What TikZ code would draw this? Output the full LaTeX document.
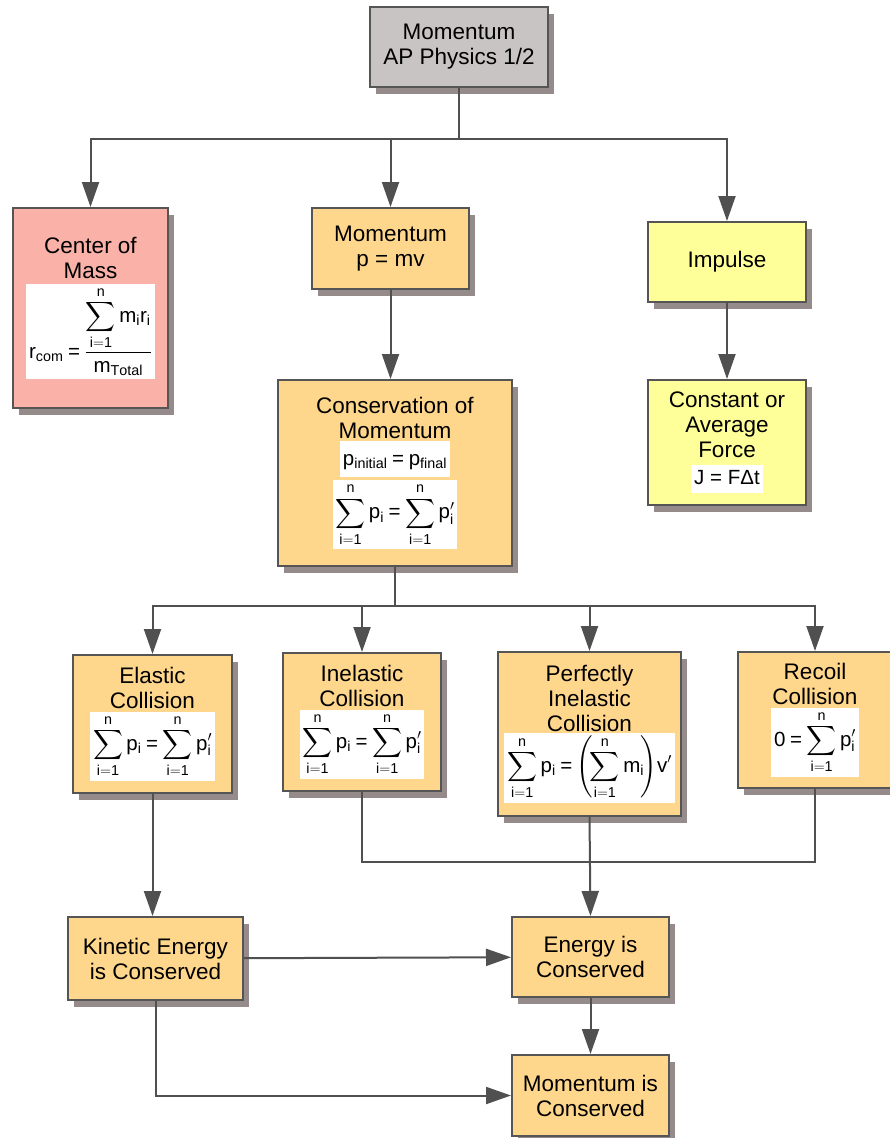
\documentclass[tikz,border=0pt]{standalone}
\usepackage{amsmath}
\usepackage{fontspec}
\setmainfont{Liberation Sans}
\usetikzlibrary{arrows.meta,shadows}

\definecolor{topgray}{RGB}{200,196,196}
\definecolor{compink}{RGB}{250,178,168}
\definecolor{boxorange}{RGB}{255,215,140}
\definecolor{impyellow}{RGB}{255,255,153}
\definecolor{shadowgray}{RGB}{150,139,139}
\definecolor{edgegray}{RGB}{85,85,85}
\definecolor{linegray}{RGB}{80,80,80}

\setlength{\fboxsep}{3pt}
\thickmuskip=4mu
\newcommand{\fml}{\fontsize{20.5}{23}\selectfont}
\newcommand{\eq}{\mathrel{\text{=}}}
\newcommand{\momsum}{\displaystyle\sum_{\mathrm{i=1}}^{\mathrm{n}}\mathrm{p}_{\mathrm{i}}\eq\sum_{\mathrm{i=1}}^{\mathrm{n}}\mathrm{p}'_{\mathrm{i}}}

\tikzset{
	% standard arrow tip
	>={Triangle[length=25pt,width=17pt]},
	% box style
	box/.style={
		rectangle,
		draw=edgegray, line width=2pt,
		fill=boxorange,
		align=center,
		inner sep=3pt,
		font=\fontsize{22.5}{25}\selectfont,
		drop shadow={shadow xshift=6pt, shadow yshift=-7pt, opacity=1, fill=shadowgray}
	},
	% connector styles
	link/.style={
		draw=linegray,
		line width=2pt
	},
	arrow/.style={
		link,
		->
	}
}

\begin{document}
\begin{tikzpicture}[x=1pt,y=-1pt]
	\useasboundingbox (0,0) rectangle (890,1138);

	\node[box,fill=topgray,minimum width=178pt,minimum height=80pt] (top) at (459,47)
		{Momentum \\ AP Physics 1/2};

	\node[box,fill=compink,minimum width=155pt,minimum height=200pt] (com) at (90.5,308)
		{Center of \\ Mass \\[4pt]
		\colorbox{white}{\fml\rule[-12pt]{0pt}{10pt}$\displaystyle\mathrm{r}_{\mathrm{com}}\eq\frac{\displaystyle\sum_{\mathrm{i=1}}^{\mathrm{n}}\mathrm{m}_{\mathrm{i}}\mathrm{r}_{\mathrm{i}}}{\mathrm{m}_{\mathrm{Total}}}$}};
	\node[box,minimum width=157pt,minimum height=81pt] (mom) at (390.5,248.5)
		{Momentum \\ p = mv};
	\node[box,fill=impyellow,minimum width=158pt,minimum height=80pt] (imp) at (727,262)
		{Impulse};

	\node[box,minimum width=234pt,minimum height=186pt] (cons) at (395,473)
		{Conservation of \\ Momentum \\[2pt]
		\colorbox{white}{\fml\rule[-9pt]{0pt}{30pt}$\mathrm{p}_{\mathrm{initial}}\eq\mathrm{p}_{\mathrm{final}}$} \\[2pt]
		\colorbox{white}{\fml $\momsum$}};
	\node[box,fill=impyellow,minimum width=158pt,minimum height=125pt] (force) at (727,442.5)
		{Constant or \\ Average \\ Force \\[2pt]
		\colorbox{white}{\fml\rule[-5pt]{0pt}{22pt}J = FΔt}};

	\node[box,minimum width=159pt,minimum height=138pt] (elastic) at (152.5,724)
		{Elastic \\ Collision \\[2pt]
		\colorbox{white}{\fml $\momsum$}};
	\node[box,minimum width=158pt,minimum height=138pt] (inel) at (362,722)
		{Inelastic \\ Collision \\[2pt]
		\colorbox{white}{\fml $\momsum$}};
	\node[box,minimum width=183pt,minimum height=164pt] (perf) at (589.5,734)
		{Perfectly \\ Inelastic \\ Collision \\
		\colorbox{white}{\fml $\displaystyle\sum_{\mathrm{i=1}}^{\mathrm{n}}\mathrm{p}_{\mathrm{i}}\eq\left(\!\sum_{\mathrm{i=1}}^{\mathrm{n}}\mathrm{m}_{\mathrm{i}}\!\right)\!\mathrm{v}'$}};
	\node[box,minimum width=154pt,minimum height=136pt] (recoil) at (815,720)
		{Recoil \\ Collision \\[2pt]
		\colorbox{white}{\fml $\displaystyle\mathrm{0}\eq\sum_{\mathrm{i=1}}^{\mathrm{n}}\mathrm{p}'_{\mathrm{i}}$}};

	\node[box,minimum width=175pt,minimum height=83pt] (ke) at (155.5,958.5)
		{Kinetic Energy \\ is Conserved};
	\node[box,minimum width=157pt,minimum height=80pt] (energy) at (590.5,957)
		{Energy is \\ Conserved};
	\node[box,minimum width=157pt,minimum height=81pt] (momcons) at (590.5,1095.5)
		{Momentum is \\ Conserved};

	% first fork
	\coordinate (fork1) at (top.south |- 0,139);
	\draw[link] (top.south) -- (fork1);
	\foreach \n in {com,mom,imp}
		\draw[arrow] (fork1) -| (\n.north);
	\draw[arrow] (mom.south) -- (mom.south |- cons.north);
	\draw[arrow] (imp) -- (force);

	% collision fork
	\coordinate (fork2) at (cons.south |- 0,606);
	\draw[link] (cons.south) -- (fork2);
	\foreach \n in {elastic,inel,perf,recoil}
		\draw[arrow] (fork2) -| (\n.north);

	% outcomes
	\coordinate (join) at (perf.south |- 0,862);
	\draw[link] (inel.south) |- (join) -| (recoil.south);
	\draw[arrow] (perf.south) -- (energy.north);
	\draw[arrow] (elastic.south) -- (elastic.south |- ke.north);
	\draw[arrow] (ke) -- (energy);
	\draw[arrow] (energy) -- (momcons);
	\draw[arrow] (ke.south) |- (momcons.west);
\end{tikzpicture}
\end{document}
